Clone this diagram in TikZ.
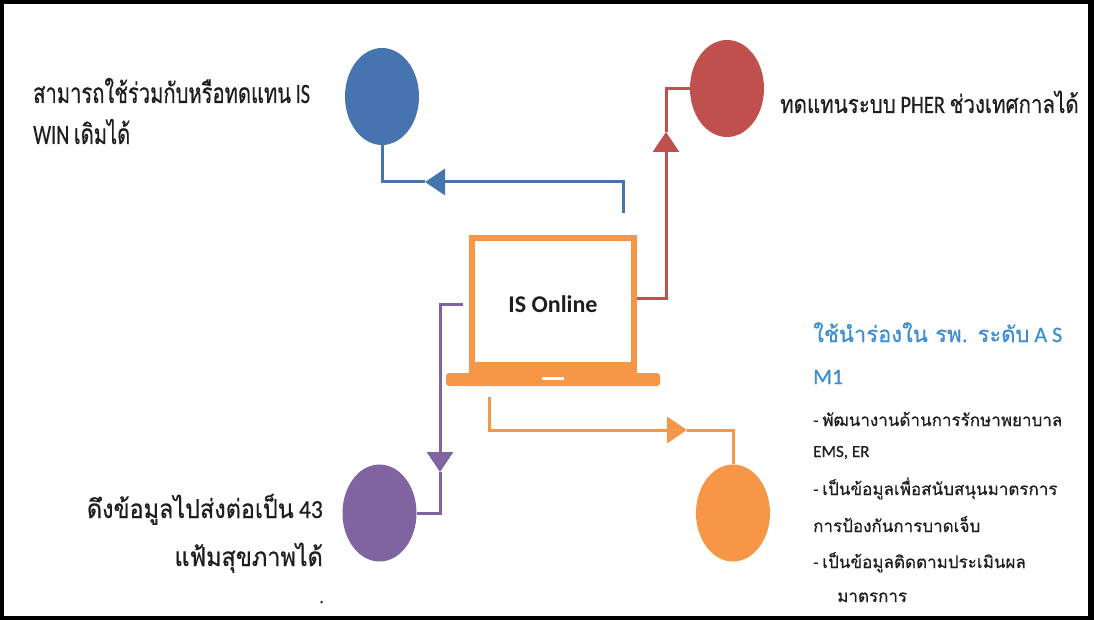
\documentclass[tikz,border=0pt]{standalone}
\usepackage{fontspec}
\usepackage{graphicx}
\setmainfont{Carlito}[FakeBold=0.5]
\newfontfamily\thfont[Script=Thai,FakeBold=0.5]{Loma}
\newfontfamily\labfont{Carlito}
\usetikzlibrary{arrows.meta,shapes.geometric}
\definecolor{cblue}{HTML}{4674AE}
\definecolor{cred}{HTML}{C0504D}
\definecolor{cpurple}{HTML}{8064A2}
\definecolor{corange}{HTML}{F79646}
\definecolor{chead}{HTML}{3B8ED6}
\definecolor{ctext}{HTML}{1E1E1E}
\newcommand{\fs}[1]{\fontsize{#1}{#1}\selectfont}
\newcommand{\hsq}[2]{\scalebox{#1}[1]{#2}}
\begin{document}
\begin{tikzpicture}[x=1pt,y=-1pt,
  blob/.style={ellipse, minimum width=74pt, minimum height=97pt, inner sep=0pt, draw=none},
  link/.style={line width=3pt},
  tipped/.style={-{Triangle[length=20pt,width=26pt]}},
  lbl/.style={inner sep=0pt, text=ctext},
  txtA/.style={lbl, font=\fs{28}},
  txtB/.style={lbl, font=\fs{25}},
  txtC/.style={lbl, font=\fs{26}},
  txtH/.style={lbl, text=chead, font=\fs{22}},
  txtS/.style={lbl, font=\fs{17}}]
\fill[black] (0,0) rectangle (1094,620);
\fill[white] (4,4) rectangle (1088,616);
\useasboundingbox (0,0) rectangle (1094,620);
% ellipses
\node[blob, fill=cblue] (eb) at (382,96.5) {};
\node[blob, fill=cred] (er) at (727,88.5) {};
\node[blob, fill=cpurple] (ep) at (379.5,513) {};
\node[blob, fill=corange] (eo) at (733,513) {};
% laptop
\node[draw=corange, line width=6pt, minimum width=162pt, minimum height=132pt, inner sep=0pt,
      font=\labfont\bfseries\fs{24}, text=ctext] (scr) at (553,304) {IS Online};
\fill[corange] (469,362) rectangle (637,375);
\fill[corange, rounded corners=3pt] (446,373) rectangle (660,386);
\fill[white] (542,376.5) rectangle (564,379.5);
% connectors
\coordinate (bS) at (623,213);
\coordinate (bT) at (425,182);
\draw[link, cblue, tipped] (bS) |- (bT);
\draw[link, cblue] (bT) -| (eb.south);
\coordinate (rT) at (666,132);
\draw[link, cred, tipped] ([yshift=6pt]scr.east) -| (rT);
\draw[link, cred] (rT) |- (er.west);
\coordinate (pT) at (440,472);
\draw[link, cpurple, tipped] ([xshift=-6pt]scr.west) -| (pT);
\draw[link, cpurple] (pT) |- (ep.east);
\coordinate (oS) at (489,397);
\coordinate (oT) at (687,430);
\draw[link, corange, tipped] (oS) |- (oT);
\draw[link, corange] (oT) -| (eo.north);
% texts
\node[txtA, anchor=base west] (tb1) at (33,103) {\hsq{0.72}{{\thfont สามารถใช้ร่วมกับหรือทดแทน} IS}};
\node[txtA, anchor=base west] (tb2) at (33,144) {\hsq{0.72}{WIN {\thfont เดิมได้}}};
\node[txtB, anchor=base west] (tr) at (780,113) {\hsq{0.82}{{\thfont ทดแทนระบบ} PHER {\thfont ช่วงเทศกาลได้}}};
\node[txtC, anchor=base east] (tp1) at (323,518) {\hsq{0.9}{{\thfont ดึงข้อมูลไปส่งต่อเป็น} 43}};
\node[txtC, anchor=base east] (tp2) at (323,566) {\hsq{0.9}{\thfont แฟ้มสุขภาพได้}};
\node[txtS, anchor=base east] (dot) at (324,603) {.};
\node[txtH, anchor=base west] (h1) at (813,342) {{\thfont ใช้นำร่องใน รพ. ระดับ} A S};
\node[txtH, anchor=base west] (h2) at (813,384) {M1};
\node[txtS, anchor=base west] (s1) at (813,426) {- {\thfont พัฒนางานด้านการรักษาพยาบาล}};
\node[txtS, anchor=base west] (s2) at (813,457) {EMS, ER};
\node[txtS, anchor=base west] (s3) at (813,495) {- {\thfont เป็นข้อมูลเพื่อสนับสนุนมาตรการ}};
\node[txtS, anchor=base west] (s4) at (813,532) {\thfont การป้องกันการบาดเจ็บ};
\node[txtS, anchor=base west] (s5) at (813,568) {- {\thfont เป็นข้อมูลติดตามประเมินผล}};
\node[txtS, anchor=base west] (s6) at (837,602) {\thfont มาตรการ};
\end{tikzpicture}
\end{document}
